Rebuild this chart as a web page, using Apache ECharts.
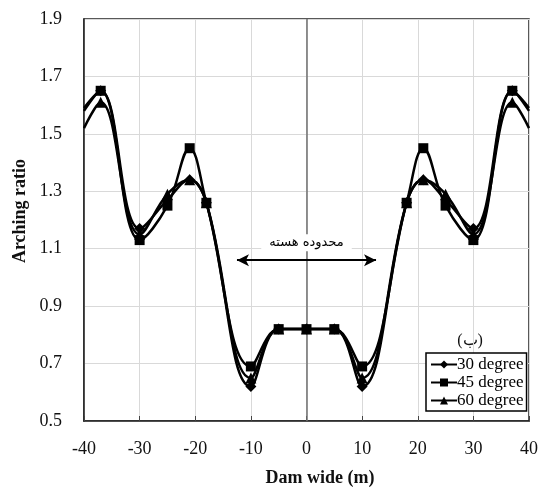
<!DOCTYPE html>
<html>
<head>
<meta charset="utf-8">
<script src="https://cdn.jsdelivr.net/npm/echarts@6/dist/echarts.min.js"></script>
<style>html,body{margin:0;padding:0;background:#fff}#c{width:541px;height:493px}</style>
</head>
<body>
<div id="c"></div>
<script>
// Data
const xPositions = [-40, -37, -30, -25, -21, -18, -10, -5, 0, 5, 10, 18, 21, 25, 30, 37, 40];
const deg30 = [1.59, 1.65, 1.17, 1.27, 1.34, 1.26, 0.62, 0.82, 0.82, 0.82, 0.62, 1.26, 1.34, 1.27, 1.17, 1.65, 1.59];
const deg45 = [1.58, 1.65, 1.13, 1.25, 1.45, 1.26, 0.69, 0.82, 0.82, 0.82, 0.69, 1.26, 1.45, 1.25, 1.13, 1.65, 1.58];
const deg60 = [1.52, 1.61, 1.15, 1.29, 1.34, 1.26, 0.65, 0.82, 0.82, 0.82, 0.65, 1.26, 1.34, 1.29, 1.15, 1.61, 1.52];
const seriesNames = ['30 degree', '45 degree', '60 degree'];
const xTicks = [-40, -30, -20, -10, 0, 10, 20, 30, 40];
const yTicks = [0.5, 0.7, 0.9, 1.1, 1.3, 1.5, 1.7, 1.9];
const coreRange = [-12.5, 12.5];
const coreLevel = 1.06;
const coreLabel = 'محدوده هسته';
const panelLabel = '(ب)';

function toData(vals) {
  return xPositions.map((x, i) => {
    const item = { value: [x, vals[i]] };
    if (x === -40 || x === 40) item.symbol = 'none';
    return item;
  });
}

const serif = '"Liberation Serif", "Times New Roman", serif';
const chart = echarts.init(document.getElementById('c'));
const symbols = ['diamond', 'rect', 'triangle'];
const sizes = [11, 10, 11];
const allVals = [deg30, deg45, deg60];

const series = allVals.map((vals, k) => ({
  name: seriesNames[k],
  type: 'line',
  data: toData(vals),
  smooth: 0.4,
  symbol: symbols[k],
  symbolSize: sizes[k],
  itemStyle: { color: '#000' },
  lineStyle: { color: '#000', width: 2.5 },
  z: 5 - k
}));

series[0].markLine = {
  silent: true,
  animation: false,
  z: 1,
  data: [
    [
      { coord: [0, yTicks[0]], symbol: 'none', lineStyle: { color: '#6e6e6e', width: 1.5, type: 'solid' }, label: { show: false } },
      { coord: [0, yTicks[yTicks.length - 1]], symbol: 'none' }
    ],
    [
      { coord: [coreRange[0], coreLevel], symbol: 'arrow', lineStyle: { color: '#000', width: 2, type: 'solid' },
        label: { show: true, position: 'middle', formatter: coreLabel, distance: 9, color: '#000',
          fontFamily: '"DejaVu Sans", sans-serif', fontSize: 13, backgroundColor: '#fff', padding: [2, 8] } },
      { coord: [coreRange[1], coreLevel], symbol: 'arrow' }
    ]
  ],
  symbolSize: [9, 12]
};

chart.setOption({
  animation: false,
  backgroundColor: '#fff',
  grid: { left: 84, right: 11, top: 19, bottom: 72, show: true, borderColor: '#222', borderWidth: 1.5, backgroundColor: 'transparent' },
  legend: {
    left: 426, top: 353, orient: 'vertical',
    itemWidth: 26, itemHeight: 10, itemGap: 1,
    padding: [3, 3, 2, 4],
    borderColor: '#000', borderWidth: 1.5, backgroundColor: '#fff',
    textStyle: { fontFamily: serif, fontSize: 17, color: '#000', padding: [0, 0, 0, -5] },
    data: seriesNames
  },
  xAxis: {
    type: 'value', min: xTicks[0], max: xTicks[xTicks.length - 1], interval: 10,
    axisLine: { show: true, onZero: false, lineStyle: { color: '#222', width: 1.5 } },
    axisTick: { show: true, inside: true, length: 5, lineStyle: { color: '#444' } },
    axisLabel: { fontFamily: serif, fontSize: 18, color: '#111', margin: 19 },
    splitLine: { show: true, lineStyle: { color: '#d9d9d9', width: 1 } }
  },
  yAxis: {
    type: 'value', min: yTicks[0], max: yTicks[yTicks.length - 1], interval: 0.2,
    axisLine: { show: true, onZero: false, lineStyle: { color: '#222', width: 1.5 } },
    axisTick: { show: false },
    axisLabel: { fontFamily: serif, fontSize: 18, color: '#111', margin: 22, formatter: v => v.toFixed(1) },
    splitLine: { show: true, lineStyle: { color: '#d9d9d9', width: 1 } }
  },
  graphic: [
    { type: 'text', x: 320, y: 478, style: { text: 'Dam wide (m)', font: 'bold 18px ' + serif, fill: '#111', align: 'center', verticalAlign: 'middle' } },
    { type: 'text', x: 20, y: 211, rotation: Math.PI / 2, style: { text: 'Arching ratio', font: 'bold 18px ' + serif, fill: '#111', align: 'center', verticalAlign: 'middle' } },
    { type: 'text', x: 470, y: 341, style: { text: panelLabel, font: '16px ' + serif, fill: '#111', align: 'center', verticalAlign: 'middle' } }
  ],
  series: series
});
</script>
</body>
</html>
